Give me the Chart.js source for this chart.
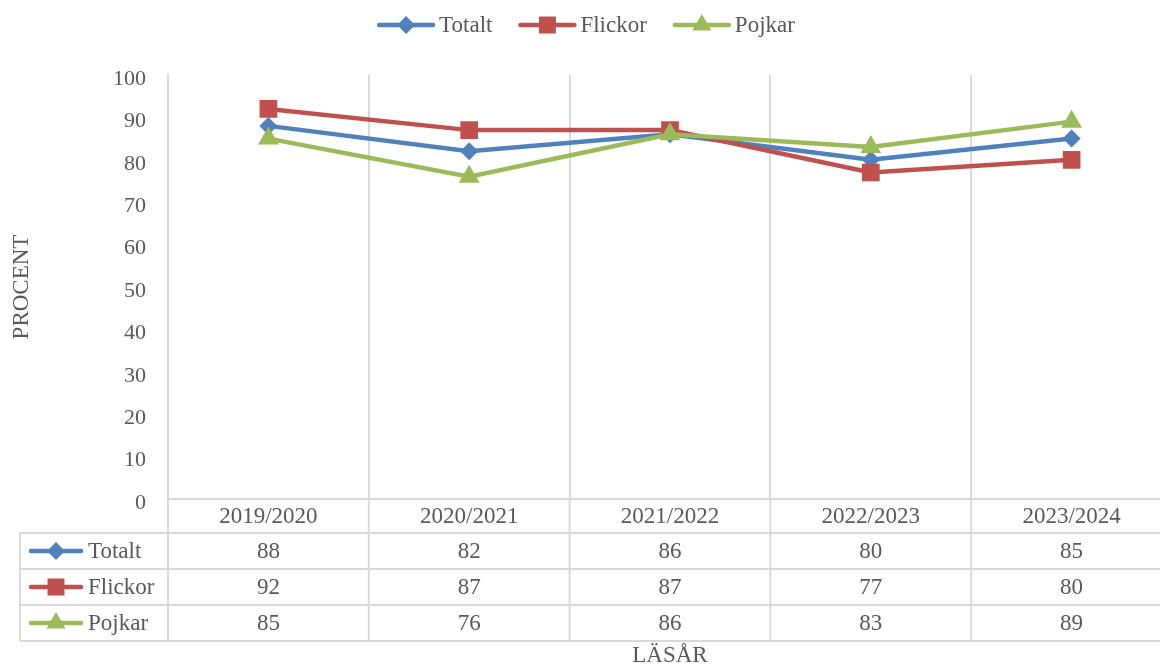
<!DOCTYPE html>
<html>
<head>
<meta charset="utf-8">
<script src="https://cdn.jsdelivr.net/npm/chart.js@4.4.1/dist/chart.umd.min.js"></script>
<style>
  html, body { margin: 0; padding: 0; background: #fff; overflow: hidden; }
  #wrap { position: relative; width: 1160px; height: 666px; }
</style>
</head>
<body>
<div id="wrap"><canvas id="chart"></canvas></div>
<script>
// ── data ─────────────────────────────────────────────
const years   = ['2019/2020', '2020/2021', '2021/2022', '2022/2023', '2023/2024'];
const totalt  = [88, 82, 86, 80, 85];
const flickor = [92, 87, 87, 77, 80];
const pojkar  = [85, 76, 86, 83, 89];

const seriesNames   = ['Totalt', 'Flickor', 'Pojkar'];
const seriesValues  = [totalt, flickor, pojkar];
const seriesColors  = ['#4f81bd', '#c0504d', '#9bbb59'];
const seriesMarkers = ['rectRot', 'rect', 'triangle'];
const seriesRadius  = [9, 12.5, 12];

const TXT  = '#595959';
const GRID = '#d9d9d9';
const FONT = '"Liberation Serif", "Times New Roman", serif';
const FSIZE = 23;
const PLOT_RIGHT = 1172; // the reference is cropped: plot runs a bit past the picture edge

// small marker + line icon, used in legend and table
function drawMarker(ctx, style, x, y, color) {
  ctx.fillStyle = color;
  ctx.beginPath();
  if (style === 'rectRot') {
    const r = 9;
    ctx.moveTo(x, y - r); ctx.lineTo(x + r, y); ctx.lineTo(x, y + r); ctx.lineTo(x - r, y);
  } else if (style === 'rect') {
    const s = 8.5;
    ctx.rect(x - s, y - s, 2 * s, 2 * s);
  } else {
    const r = 11;
    ctx.moveTo(x, y - r); ctx.lineTo(x + r * 0.87, y + r / 2); ctx.lineTo(x - r * 0.87, y + r / 2);
  }
  ctx.closePath();
  ctx.fill();
}

function drawIcon(ctx, x, y, w, i) {
  ctx.save();
  ctx.strokeStyle = seriesColors[i];
  ctx.lineWidth = 4.5;
  ctx.lineCap = 'round';
  ctx.beginPath();
  ctx.moveTo(x + 2, y); ctx.lineTo(x + w - 2, y);
  ctx.stroke();
  drawMarker(ctx, seriesMarkers[i], x + w / 2, y, seriesColors[i]);
  ctx.restore();
}

// stretch the x scale / chart area past the canvas edge
const widenPlot = {
  id: 'widenPlot',
  afterLayout(chart) {
    const x = chart.scales.x;
    x.right = PLOT_RIGHT;
    x.width = x.right - x.left;
    x.configure();
    chart.chartArea.right = PLOT_RIGHT;
    chart.chartArea.width = PLOT_RIGHT - chart.chartArea.left;
  }
};

// ── legend on top ────────────────────────────────────
const topLegend = {
  id: 'topLegend',
  afterDraw(chart) {
    const ctx = chart.ctx;
    const iconW = 58, gap = 4, between = 26, cy = 25;
    ctx.save();
    ctx.font = FSIZE + 'px ' + FONT;
    const widths = seriesNames.map(n => ctx.measureText(n).width);
    const total = widths.reduce((s, w) => s + iconW + gap + w, 0) + between * (seriesNames.length - 1);
    let x = chart.chartArea.right / 2 - total / 2;
    ctx.textBaseline = 'middle';
    ctx.textAlign = 'left';
    seriesNames.forEach((n, i) => {
      drawIcon(ctx, x, cy, iconW, i);
      ctx.fillStyle = TXT;
      ctx.fillText(n, x + iconW + gap, cy + 1);
      x += iconW + gap + widths[i] + between;
    });
    ctx.restore();
  }
};

// ── data table under the x axis ──────────────────────
const dataTable = {
  id: 'dataTable',
  afterDraw(chart) {
    const { ctx, chartArea: a, scales: { x } } = chart;
    const tableLeft = 20;
    const b = a.bottom;
    const rows = [b + 34, b + 70, b + 106, b + 142];
    ctx.save();
    ctx.strokeStyle = GRID;
    ctx.lineWidth = 2;
    ctx.beginPath();
    rows.forEach(y => { ctx.moveTo(tableLeft, y); ctx.lineTo(a.right, y); });
    ctx.moveTo(tableLeft, rows[0]); ctx.lineTo(tableLeft, rows[3]);
    for (let i = 0; i <= years.length; i++) {
      const xx = x.getPixelForValue(i - 0.5);
      ctx.moveTo(xx, b); ctx.lineTo(xx, rows[3]);
    }
    ctx.stroke();

    ctx.font = FSIZE + 'px ' + FONT;
    ctx.textBaseline = 'middle';
    seriesNames.forEach((n, i) => {
      const cy = (rows[i] + rows[i + 1]) / 2;
      drawIcon(ctx, 29, cy, 54, i);
      ctx.fillStyle = TXT;
      ctx.textAlign = 'left';
      ctx.fillText(n, 88, cy + 1);
      ctx.textAlign = 'center';
      seriesValues[i].forEach((v, j) => {
        ctx.fillText(String(v), x.getPixelForValue(j), cy + 1);
      });
    });
    ctx.restore();
  }
};

new Chart(document.getElementById('chart').getContext('2d'), {
  type: 'line',
  data: {
    labels: years,
    datasets: seriesNames.map((n, i) => ({
      label: n,
      data: seriesValues[i],
      borderColor: seriesColors[i],
      backgroundColor: seriesColors[i],
      borderWidth: 4.5,
      tension: 0,
      pointStyle: seriesMarkers[i],
      pointRadius: seriesRadius[i],
      pointBorderWidth: 0,
      pointBackgroundColor: seriesColors[i],
      order: 3 - i
    }))
  },
  options: {
    responsive: true,
    maintainAspectRatio: false,
    animation: false,
    layout: { padding: { top: 75, left: 0, right: 0, bottom: 0 } },
    plugins: { legend: { display: false }, tooltip: { enabled: false } },
    scales: {
      x: {
        offset: true,
        grid: { display: true, offset: true, color: GRID, lineWidth: 2, drawTicks: false },
        border: { display: true, color: GRID, width: 2 },
        ticks: { color: TXT, font: { family: FONT, size: FSIZE }, padding: 4, maxRotation: 0 },
        title: { display: true, text: 'LÄSÅR', color: TXT, font: { family: FONT, size: FSIZE }, padding: { top: 0, bottom: -4 } },
        afterFit: s => { s.height = 167; }
      },
      y: {
        min: 0, max: 100,
        grid: { display: false, drawTicks: false },
        border: { display: true, color: GRID, width: 2 },
        ticks: { stepSize: 10, color: TXT, font: { family: FONT, size: 22 }, padding: 22, labelOffset: 4 },
        title: { display: true, text: 'PROCENT', color: TXT, font: { family: FONT, size: FSIZE }, padding: { top: 8, bottom: 0 } },
        afterFit: s => { s.width = 168; }
      }
    }
  },
  plugins: [widenPlot, topLegend, dataTable]
});
</script>
</body>
</html>
